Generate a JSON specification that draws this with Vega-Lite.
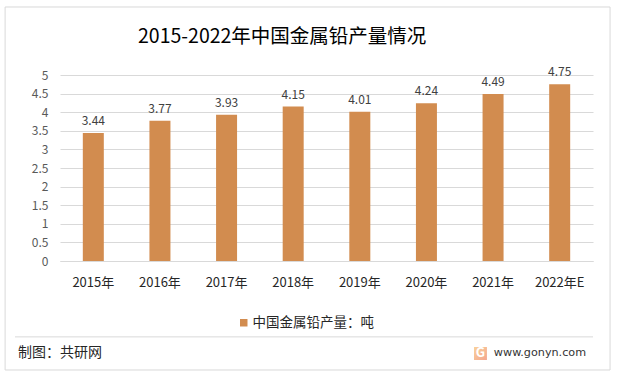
{"$schema":"https://vega.github.io/schema/vega-lite/v6.json","width":533,"height":186,"autosize":{"type":"none"},"padding":{"left":60,"top":75,"right":24,"bottom":116},"background":"white",
"title":{"text":"2015-2022年中国金属铅产量情况","anchor":"start","frame":"group","dx":78,"offset":-41,"font":"Noto Sans CJK SC","fontSize":19.5,"fontWeight":"normal","color":"#000000"},
"config":{"view":{"stroke":null},"font":"Noto Sans CJK SC"},
"datasets":{"main":[
{"year":"2015年","value":3.44,"series":"中国金属铅产量\uff1a吨"},
{"year":"2016年","value":3.77,"series":"中国金属铅产量\uff1a吨"},
{"year":"2017年","value":3.93,"series":"中国金属铅产量\uff1a吨"},
{"year":"2018年","value":4.15,"series":"中国金属铅产量\uff1a吨"},
{"year":"2019年","value":4.01,"series":"中国金属铅产量\uff1a吨"},
{"year":"2020年","value":4.24,"series":"中国金属铅产量\uff1a吨"},
{"year":"2021年","value":4.49,"series":"中国金属铅产量\uff1a吨"},
{"year":"2022年E","value":4.75,"series":"中国金属铅产量\uff1a吨"}],
"frame":[{"x0":-0.103,"x1":1.032,"y0":-2.93,"y1":6.828}],
"footline":[{"x0":-0.0844,"x1":1,"y0":-2.04}],
"logo":[{"x0":0.7767,"x1":0.801,"y0":-2.312,"y1":-2.661,"xc":0.7889,"yc":-2.486,"g":"G"}],
"footleft":[{"x":-0.0788,"y":-2.473,"t":"制图\uff1a共研网"}],
"footright":[{"x":0.814,"y":-2.473,"t":"www.gonyn.com"}]},
"resolve":{"scale":{"x":"independent"},"axis":{"y":"independent"}},
"layer":[
{"data":{"name":"frame"},"mark":{"type":"rect","fill":null,"stroke":"#d9d9d9","strokeWidth":1},
"encoding":{"x":{"field":"x0","type":"quantitative","scale":{"domain":[0,1]},"axis":null},"x2":{"field":"x1"},"y":{"field":"y0","type":"quantitative","scale":{"domain":[0,5],"nice":false},"axis":null},"y2":{"field":"y1"}}},
{"data":{"name":"footline"},"mark":{"type":"rule","stroke":"#d9d9d9","strokeWidth":1},
"encoding":{"x":{"field":"x0","type":"quantitative","scale":{"domain":[0,1]},"axis":null},"x2":{"field":"x1"},"y":{"field":"y0","type":"quantitative","axis":null}}},
{"data":{"name":"logo"},"mark":{"type":"rect","fill":{"gradient":"linear","x1":0,"y1":0,"x2":1,"y2":1,"stops":[{"offset":0,"color":"#f9d29a"},{"offset":1,"color":"#f4a58f"}]}},
"encoding":{"x":{"field":"x0","type":"quantitative","scale":{"domain":[0,1]},"axis":null},"x2":{"field":"x1"},"y":{"field":"y0","type":"quantitative","axis":null},"y2":{"field":"y1"}}},
{"data":{"name":"logo"},"mark":{"type":"text","fontSize":13,"fontWeight":"bold","color":"#ffffff","align":"center","baseline":"middle"},
"encoding":{"x":{"field":"xc","type":"quantitative","scale":{"domain":[0,1]},"axis":null},"y":{"field":"yc","type":"quantitative","axis":null},"text":{"field":"g"}}},
{"data":{"name":"footleft"},"mark":{"type":"text","fontSize":14,"color":"#262626","align":"left","baseline":"middle"},
"encoding":{"x":{"field":"x","type":"quantitative","scale":{"domain":[0,1]},"axis":null},"y":{"field":"y","type":"quantitative","axis":null},"text":{"field":"t"}}},
{"data":{"name":"footright"},"mark":{"type":"text","fontSize":11.2,"font":"DejaVu Sans","color":"#333333","align":"left","baseline":"middle"},
"encoding":{"x":{"field":"x","type":"quantitative","scale":{"domain":[0,1]},"axis":null},"y":{"field":"y","type":"quantitative","axis":null},"text":{"field":"t"}}},
{"data":{"name":"main"},"mark":{"type":"bar","size":21},
"encoding":{"x":{"field":"year","type":"nominal","sort":null,"axis":{"title":null,"labelAngle":0,"labelColor":"#262626","labelFontSize":13,"labelPadding":15,"ticks":false,"domainColor":"#d9d9d9","labelFont":"Noto Sans CJK SC"}},
"y":{"field":"value","type":"quantitative","axis":{"title":null,"values":[0,0.5,1,1.5,2,2.5,3,3.5,4,4.5,5],"format":"~g","labelColor":"#595959","labelFontSize":12,"labelPadding":12,"ticks":false,"domain":false,"grid":true,"gridColor":"#d9d9d9","labelFont":"Noto Sans CJK SC"}},
"color":{"field":"series","type":"nominal","scale":{"range":["#d28c4f"]},"legend":{"title":null,"orient":"none","legendX":177,"legendY":241,"symbolType":"square","symbolSize":56,"labelOffset":2,"labelFontSize":13.5,"labelColor":"#262626","labelFont":"Noto Sans CJK SC"}}}},
{"data":{"name":"main"},"mark":{"type":"text","fontSize":12,"color":"#404040","dy":-12,"baseline":"middle"},
"encoding":{"x":{"field":"year","type":"nominal","sort":null,"axis":null},"y":{"field":"value","type":"quantitative","axis":null},"text":{"field":"value","format":".2f"}}}
]}
